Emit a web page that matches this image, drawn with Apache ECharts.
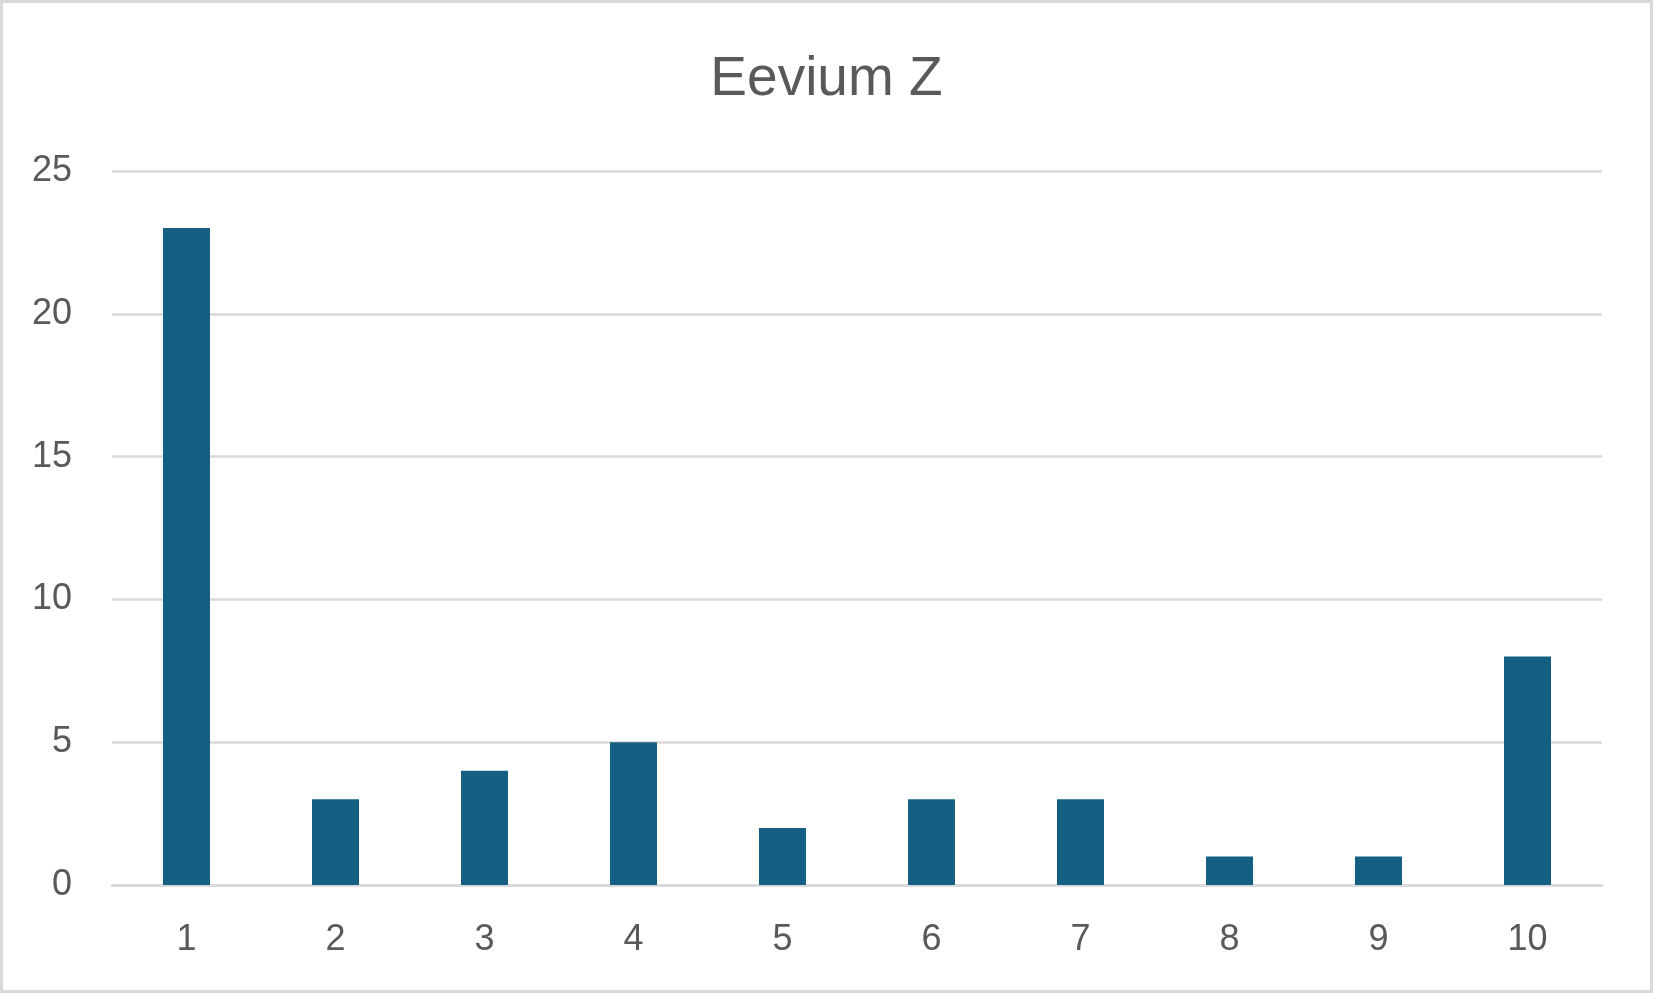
<!DOCTYPE html>
<html>
<head>
<meta charset="utf-8">
<script src="https://cdn.jsdelivr.net/npm/echarts@6/dist/echarts.min.js"></script>
<style>
html,body{margin:0;padding:0;background:#fff;}
#chart{width:1653px;height:993px;}
</style>
</head>
<body>
<div id="chart"></div>
<script>
const titleText = 'Eevium Z';
const categories = ['1','2','3','4','5','6','7','8','9','10'];
const values = [23, 3, 4, 5, 2, 3, 3, 1, 1, 8];
const yTicks = { min: 0, max: 25, interval: 5 };

const chart = echarts.init(document.getElementById('chart'), null, {renderer: 'canvas'});
const FONT = '"Liberation Sans", Arial, sans-serif';
chart.setOption({
  animation: false,
  backgroundColor: '#ffffff',
  title: {
    text: titleText,
    left: 'center',
    top: 46,
    textStyle: { fontFamily: FONT, fontSize: 55, fontWeight: 'normal', color: '#595959', lineHeight: 58 }
  },
  graphic: [{
    type: 'rect',
    shape: { x: 1.5, y: 1.5, width: 1650, height: 990 },
    style: { fill: 'none', stroke: '#d9d9d9', lineWidth: 3 },
    silent: true, z: 100
  }],
  grid: { left: 112, right: 51, top: 171, bottom: 108, containLabel: false },
  xAxis: {
    type: 'category',
    data: categories,
    axisLine: { show: true, lineStyle: { color: '#d9d9d9', width: 2.5 } },
    axisTick: { show: false },
    axisLabel: { fontFamily: FONT, fontSize: 36, color: '#595959', margin: 37, lineHeight: 36 }
  },
  yAxis: {
    type: 'value',
    min: yTicks.min, max: yTicks.max, interval: yTicks.interval,
    axisLine: { show: false },
    axisTick: { show: false },
    splitLine: { lineStyle: { color: '#d9d9d9', width: 2.5 } },
    axisLabel: { fontFamily: FONT, fontSize: 36, color: '#595959', margin: 40 }
  },
  series: [{
    type: 'bar',
    data: values,
    barWidth: 47,
    itemStyle: { color: '#156082' }
  }]
});
</script>
</body>
</html>
